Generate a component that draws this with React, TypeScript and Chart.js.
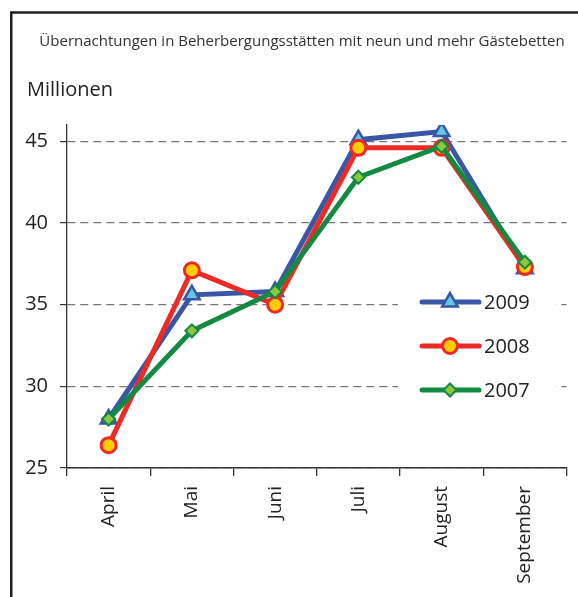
import React, { useEffect, useRef } from 'react';
import { Chart, registerables } from 'chart.js';

Chart.register(...registerables);

const months = ['April', 'Mai', 'Juni', 'Juli', 'August', 'September'];
const values2009 = [28.0, 35.6, 35.8, 45.1, 45.6, 37.2];
const values2008 = [26.4, 37.1, 35.0, 44.6, 44.6, 37.3];
const values2007 = [28.0, 33.4, 35.8, 42.8, 44.7, 37.6];
const legendOrder = ['2009', '2008', '2007'];
const yTickValues = [25, 30, 35, 40, 45];
const yMin = 25;
const yMax = 46;
const titleText = 'Übernachtungen in Beherbergungsstätten mit neun und mehr Gästebetten';
const unitText = 'Millionen';

const FONT = '"Open Sans", "Noto Sans", sans-serif';
const W = 578;
const H = 597;

const styles: Record<string, any> = {
  '2009': { line: '#3a56a6', fill: '#63c6e2', shape: 'triangle', radius: 9, bw: 2.5 },
  '2008': { line: '#ee2a24', fill: '#ffcc08', shape: 'circle', radius: 7.5, bw: 3 },
  '2007': { line: '#128a42', fill: '#8dc63f', shape: 'rectRot', radius: 6.5, bw: 2 },
};

function drawMarker(ctx: CanvasRenderingContext2D, shape: string, x: number, y: number, r: number) {
  ctx.beginPath();
  if (shape === 'circle') {
    ctx.arc(x, y, r, 0, Math.PI * 2);
  } else if (shape === 'triangle') {
    for (let i = 0; i < 3; i++) {
      const a = (i * 2 * Math.PI) / 3;
      const px = x + Math.sin(a) * r;
      const py = y - Math.cos(a) * r;
      if (i === 0) ctx.moveTo(px, py);
      else ctx.lineTo(px, py);
    }
  } else {
    ctx.moveTo(x, y - r);
    ctx.lineTo(x + r, y);
    ctx.lineTo(x, y + r);
    ctx.lineTo(x - r, y);
  }
  ctx.closePath();
  ctx.fill();
  ctx.stroke();
}

const legendBgPlugin = {
  id: 'legendBg',
  beforeDatasetsDraw(chart: any) {
    const ctx: CanvasRenderingContext2D = chart.ctx;
    ctx.save();
    ctx.fillStyle = '#fff';
    ctx.fillRect(398, 282, 158, 126);
    ctx.restore();
  },
};

const decorPlugin = {
  id: 'decor',
  afterDraw(chart: any) {
    const ctx: CanvasRenderingContext2D = chart.ctx;
    ctx.save();
    ctx.setLineDash([]);
    // frame
    ctx.strokeStyle = '#231f20';
    ctx.lineWidth = 2.5;
    ctx.beginPath();
    ctx.moveTo(11.25, H);
    ctx.lineTo(11.25, 12.5);
    ctx.lineTo(W, 12.5);
    ctx.stroke();

    // title
    ctx.fillStyle = '#333';
    ctx.font = `15px ${FONT}`;
    ctx.textAlign = 'center';
    ctx.textBaseline = 'middle';
    ctx.fillText(titleText, 302, 42);

    // unit
    ctx.fillStyle = '#222';
    ctx.font = `20px ${FONT}`;
    ctx.textAlign = 'left';
    ctx.fillText(unitText, 27, 90);

    // legend
    const rows = [302, 346, 390];
    legendOrder.forEach((lab, i) => {
      const st = styles[lab];
      const y = rows[i];
      ctx.setLineDash([]);
      ctx.strokeStyle = st.line;
      ctx.lineWidth = 5;
      ctx.lineCap = 'round';
      ctx.beginPath();
      ctx.moveTo(422, y);
      ctx.lineTo(479, y);
      ctx.stroke();
      ctx.lineCap = 'butt';
      ctx.lineJoin = 'miter';
      ctx.fillStyle = st.fill;
      ctx.lineWidth = st.bw;
      drawMarker(ctx, st.shape, 450, y, st.radius);
      ctx.fillStyle = '#222';
      ctx.font = `20px ${FONT}`;
      ctx.textAlign = 'left';
      ctx.textBaseline = 'middle';
      ctx.fillText(lab, 484, y + 1);
    });
    ctx.restore();
  },
};

function ds(label: string, data: number[]) {
  const st = styles[label];
  return {
    label,
    data,
    borderColor: st.line,
    backgroundColor: st.fill,
    borderWidth: 5,
    pointStyle: st.shape,
    pointRadius: st.radius,
    pointBackgroundColor: st.fill,
    pointBorderColor: st.line,
    pointBorderWidth: st.bw,
    tension: 0,
    fill: false,
  };
}

export default function App() {
  const ref = useRef<HTMLCanvasElement | null>(null);

  useEffect(() => {
    if (!ref.current) return;
    const chart = new Chart(ref.current, {
      type: 'line',
      data: {
        labels: months,
        datasets: [ds('2007', values2007), ds('2008', values2008), ds('2009', values2009)],
      },
      options: {
        animation: false,
        responsive: false,
        devicePixelRatio: 1,
        layout: { padding: { top: 125, right: 9, bottom: 0, left: 0 } },
        plugins: {
          legend: { display: false },
          title: { display: false },
          tooltip: { enabled: false },
        },
        scales: {
          x: {
            type: 'category',
            offset: true,
            afterFit: (s: any) => {
              s.height = H - 468;
            },
            grid: {
              display: true,
              offset: true,
              drawOnChartArea: false,
              drawTicks: true,
              tickLength: 8,
              color: '#333',
              tickColor: '#333',
              lineWidth: 1.3,
            },
            border: { display: true, color: '#333', width: 1.5 },
            ticks: {
              minRotation: 90,
              maxRotation: 90,
              padding: 10,
              color: '#222',
              font: { family: FONT, size: 19 },
            },
          },
          y: {
            type: 'linear',
            min: yMin,
            max: yMax,
            afterFit: (s: any) => {
              s.width = 67;
            },
            afterBuildTicks: (s: any) => {
              s.ticks = yTickValues.map((v) => ({ value: v }));
            },
            grid: {
              display: true,
              drawOnChartArea: true,
              drawTicks: true,
              tickLength: 7,
              color: '#777',
              lineWidth: 1.2,
              tickColor: '#333',
              tickBorderDash: [],
            },
            border: { display: true, color: '#333', width: 1.3, dash: [8, 5] },
            ticks: {
              padding: 12,
              color: '#222',
              font: { family: FONT, size: 20 },
            },
          },
        },
      },
      plugins: [legendBgPlugin, decorPlugin],
    } as any);
    return () => chart.destroy();
  }, []);

  return (
    <div style={{ position: 'absolute', left: 0, top: 0, width: W, height: H, background: '#fff' }}>
      <canvas ref={ref} width={W} height={H} style={{ display: 'block', width: W, height: H }} />
    </div>
  );
}
